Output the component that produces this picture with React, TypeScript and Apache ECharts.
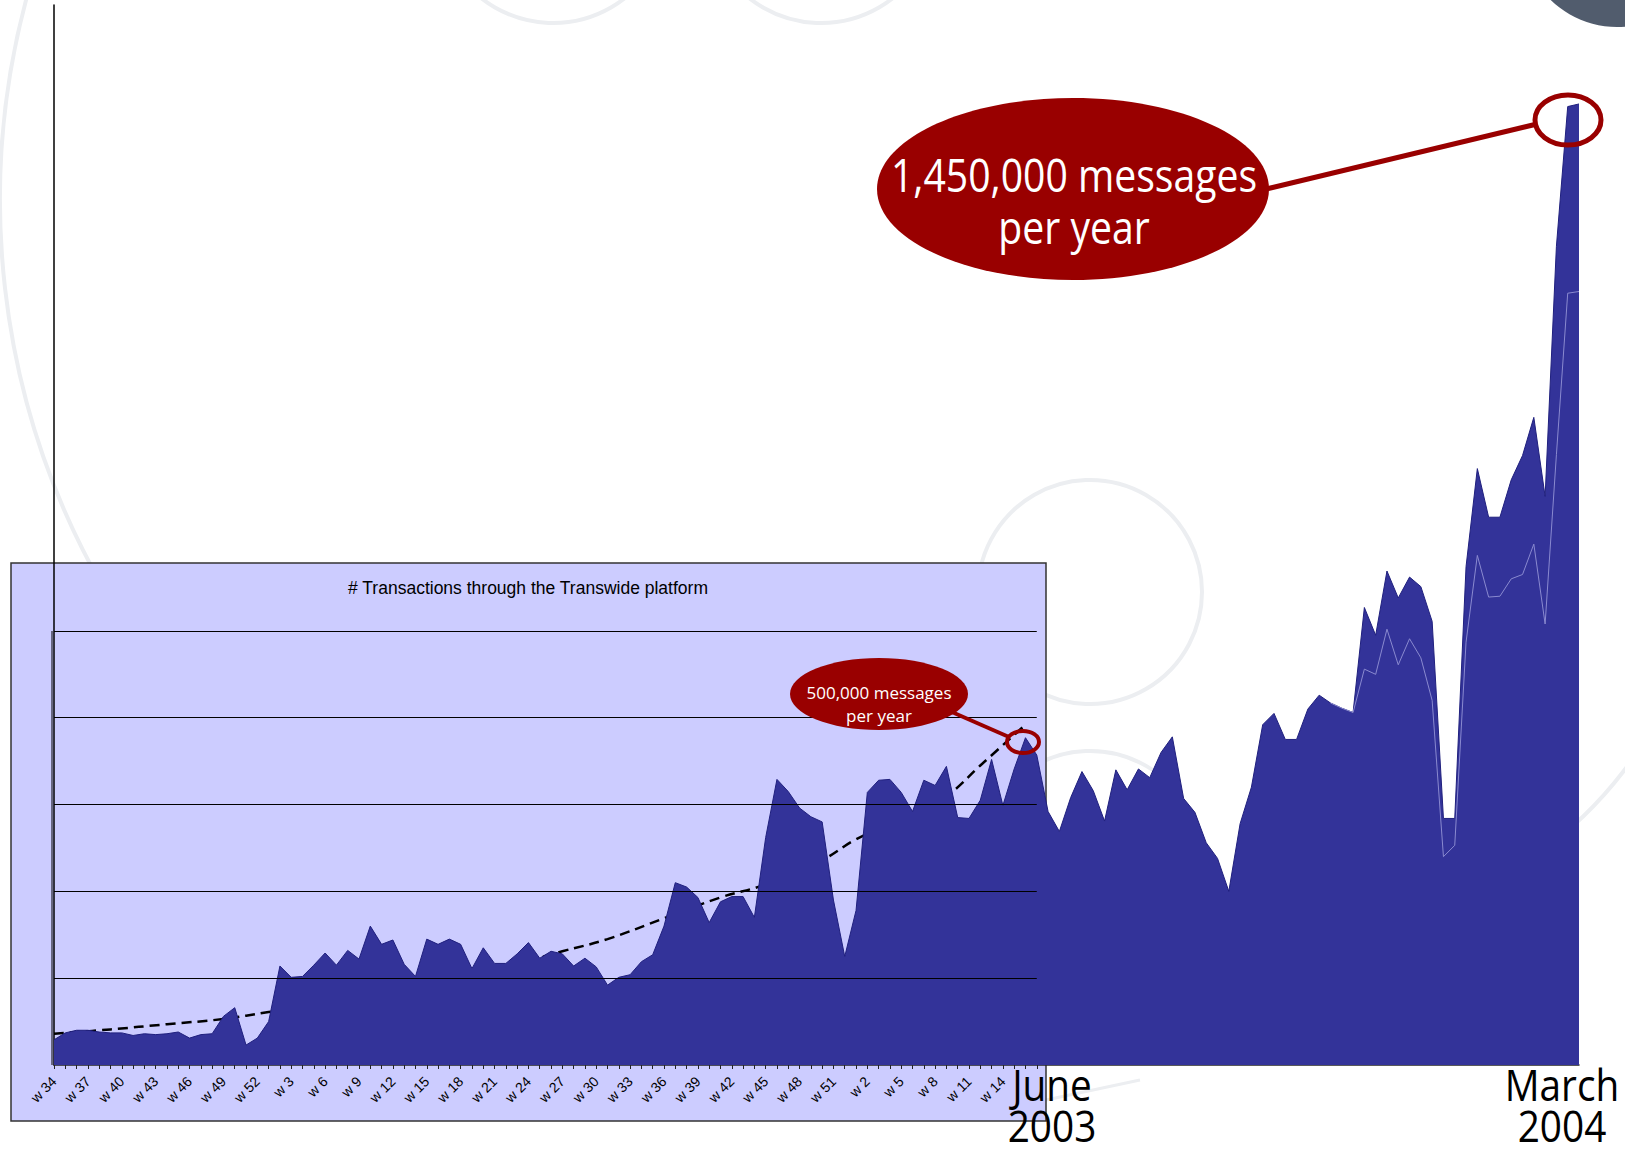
import React, { useEffect, useRef } from "react";
import * as echarts from "echarts";

// week numbers from w34 (2001) to w13 (2004)
const weekNumbers: number[] = [
  34, 35, 36, 37, 38, 39, 40, 41, 42, 43, 44, 45, 46, 47, 48, 49, 50, 51, 52,
  1, 2, 3, 4, 5, 6, 7, 8, 9, 10, 11, 12, 13, 14, 15, 16, 17, 18, 19, 20, 21, 22, 23, 24, 25, 26,
  27, 28, 29, 30, 31, 32, 33, 34, 35, 36, 37, 38, 39, 40, 41, 42, 43, 44, 45, 46, 47, 48, 49, 50, 51, 52,
  1, 2, 3, 4, 5, 6, 7, 8, 9, 10, 11, 12, 13, 14, 15, 16, 17, 18, 19, 20, 21, 22, 23, 24, 25, 26,
  27, 28, 29, 30, 31, 32, 33, 34, 35, 36, 37, 38, 39, 40, 41, 42, 43, 44, 45, 46, 47, 48, 49, 50, 51, 52,
  1, 2, 3, 4, 5, 6, 7, 8, 9, 10, 11, 12, 13,
];
const categories: string[] = weekNumbers.map((w, i) => `${i}:w ${w}`);

// transactions per week (gridline units)
const transactions: number[] = [
  0.29, 0.37, 0.40, 0.40, 0.38, 0.37, 0.37, 0.34, 0.36, 0.35,
  0.36, 0.38, 0.31, 0.35, 0.36, 0.56, 0.66, 0.23, 0.31, 0.50,
  1.14, 1.01, 1.02, 1.15, 1.29, 1.15, 1.32, 1.22, 1.60, 1.39,
  1.44, 1.16, 1.02, 1.45, 1.39, 1.45, 1.39, 1.11, 1.35, 1.17,
  1.17, 1.28, 1.41, 1.23, 1.31, 1.28, 1.14, 1.23, 1.13, 0.92,
  1.01, 1.04, 1.19, 1.27, 1.60, 2.10, 2.05, 1.93, 1.64, 1.88,
  1.94, 1.94, 1.70, 2.62, 3.29, 3.15, 2.96, 2.86, 2.80, 1.90,
  1.25, 1.78, 3.14, 3.28, 3.29, 3.14, 2.92, 3.28, 3.22, 3.44,
  2.85, 2.84, 3.05, 3.52, 2.99, 3.41, 3.77, 3.57, 2.92, 2.69,
  3.08, 3.38, 3.16, 2.81, 3.40, 3.17, 3.41, 3.31, 3.60, 3.78,
  3.07, 2.91, 2.56, 2.38, 2.00, 2.78, 3.20, 3.92, 4.05, 3.75,
  3.75, 4.10, 4.26, 4.17, 4.11, 4.06, 5.27, 4.95, 5.69, 5.38,
  5.62, 5.51, 5.11, 2.84, 2.84, 5.74, 6.87, 6.31, 6.31, 6.74,
  7.02, 7.46, 6.55, 9.43, 11.04, 11.07,
];

// lower series, visible from week index 113
const lowerStart = 113;
const lowerSeries: number[] = [
  4.17, 4.11, 4.06, 4.56, 4.50, 5.02, 4.61, 4.91, 4.69, 4.20,
  2.40, 2.53, 4.87, 5.87, 5.39, 5.40, 5.60, 5.65, 6.00, 5.08,
  7.03, 8.89, 8.91,
];

// dashed trend line read at some weeks [index, value]
const trendPoints: [number, number][] = [
  [0, 0.36], [5, 0.41], [10, 0.47], [15, 0.53], [19, 0.61], [25, 0.72],
  [30, 0.85], [35, 0.98], [40, 1.13], [45, 1.31], [49, 1.45], [54, 1.69],
  [59, 1.93], [63, 2.08], [68, 2.36], [71, 2.6], [75, 2.84], [79, 3.1],
  [82, 3.45], [86, 3.92],
];

const gridLevels: number[] = [1, 2, 3, 4, 5];
const innerLastTick = 87;
const innerLastLabel = 84;

const D = Math.PI / 180;
const humanist = "'Open Sans', 'Noto Sans', sans-serif";
const arial = "'Liberation Sans', Arial, sans-serif";
const deco = "#eceef1";
const red = "#990000";

export default function App() {
  const ref = useRef<HTMLDivElement>(null);
  useEffect(() => {
    const chart = echarts.init(ref.current!, null, { renderer: "svg" });
    const option: any = {
      animation: false,
      backgroundColor: "#ffffff",
      grid: { left: 54, right: 46, top: 5, bottom: 86, containLabel: false },
      xAxis: {
        type: "category",
        data: categories,
        boundaryGap: false,
        axisLine: { show: true, lineStyle: { color: "#222", width: 1.5 } },
        axisTick: {
          show: true,
          length: 4,
          interval: (index: number) => index <= innerLastTick,
          lineStyle: { color: "#222", width: 1 },
        },
        axisLabel: {
          show: true,
          rotate: 45,
          margin: 14,
          interval: (index: number) => index % 3 === 0 && index <= innerLastLabel,
          formatter: (v: string) => v.split(":")[1],
          color: "#000",
          fontSize: 14,
          fontFamily: arial,
        },
        splitLine: { show: false },
      },
      yAxis: {
        type: "value",
        min: 0,
        max: 12.21,
        axisLine: { show: true, lineStyle: { color: "#000", width: 1.5 } },
        axisTick: { show: false },
        axisLabel: { show: false },
        splitLine: { show: false },
      },
      series: [
        {
          name: "trend",
          type: "line",
          z: 2,
          smooth: 0.4,
          symbol: "none",
          data: trendPoints.map(([i, v]) => [categories[i], v]),
          lineStyle: { color: "#000", width: 2.5, type: [10, 6] },
          markLine: {
            silent: true,
            symbol: ["none", "none"],
            label: { show: false },
            lineStyle: { color: "#000", width: 1, type: "solid" },
            data: gridLevels.map((g) => [
              { coord: [categories[0], g] },
              { coord: [categories[innerLastTick], g] },
            ]),
          },
        },
        {
          name: "transactions",
          type: "line",
          z: 3,
          symbol: "none",
          data: transactions,
          lineStyle: { color: "#20207e", width: 1 },
          areaStyle: { color: "#333399", opacity: 1 },
        },
        {
          name: "lower",
          type: "line",
          z: 4,
          symbol: "none",
          data: lowerSeries.map((v, k) => [categories[lowerStart + k], v]),
          lineStyle: { color: "#8a8ad0", width: 1 },
        },
      ],
      graphic: [
        // decorative background shapes
        { type: "arc", z: -20, silent: true, shape: { cx: 780, cy: 200, r: 780, startAngle: 150 * D, endAngle: 197 * D, clockwise: true }, style: { stroke: deco, lineWidth: 4, fill: "none" } },
        { type: "circle", z: -20, silent: true, shape: { cx: 553, cy: -93, r: 116 }, style: { stroke: deco, lineWidth: 4, fill: "none" } },
        { type: "circle", z: -20, silent: true, shape: { cx: 821, cy: -93, r: 116 }, style: { stroke: deco, lineWidth: 4, fill: "none" } },
        { type: "circle", z: -20, silent: true, shape: { cx: 1090, cy: 592, r: 112 }, style: { stroke: deco, lineWidth: 4, fill: "none" } },
        { type: "circle", z: -20, silent: true, shape: { cx: 1090, cy: 864, r: 113 }, style: { stroke: deco, lineWidth: 4, fill: "none" } },
        { type: "arc", z: -20, silent: true, shape: { cx: 1306, cy: 528, r: 400, startAngle: 20 * D, endAngle: 55 * D, clockwise: true }, style: { stroke: deco, lineWidth: 4, fill: "none" } },
        { type: "line", z: -20, silent: true, shape: { x1: 1046, y1: 1100, x2: 1140, y2: 1080 }, style: { stroke: deco, lineWidth: 3 } },
        { type: "circle", z: -20, silent: true, shape: { cx: 1617, cy: -68, r: 95 }, style: { fill: "#515c6d" } },
        // inner chart box
        { type: "rect", z: -10, silent: true, shape: { x: 11, y: 563, width: 1035, height: 558 }, style: { fill: "#ccccff", stroke: "#333", lineWidth: 1.5 } },
        { type: "line", z: -9, silent: true, shape: { x1: 52, y1: 631, x2: 52, y2: 1065 }, style: { stroke: "#000", lineWidth: 1 } },
        {
          type: "text", z: 10, x: 528, y: 588,
          style: { text: "# Transactions through the Transwide platform", fontSize: 17.5, fontFamily: arial, fill: "#000", align: "center", verticalAlign: "middle" },
        },
        // big annotation
        { type: "line", z: 100, shape: { x1: 1262, y1: 190, x2: 1537, y2: 124 }, style: { stroke: red, lineWidth: 5 } },
        { type: "ellipse", z: 100, shape: { cx: 1568, cy: 120, rx: 33, ry: 25 }, style: { stroke: red, lineWidth: 5, fill: "none" } },
        { type: "ellipse", z: 101, shape: { cx: 1073, cy: 189, rx: 196, ry: 91 }, style: { fill: red } },
        {
          type: "text", z: 102, x: 1074, y: 200, scaleX: 0.87,
          style: { text: "1,450,000 messages\nper year", fontSize: 45, lineHeight: 52, fontFamily: humanist, fill: "#fff", align: "center", verticalAlign: "middle" },
        },
        // small annotation
        { type: "line", z: 100, shape: { x1: 945, y1: 709, x2: 1009, y2: 737 }, style: { stroke: red, lineWidth: 4 } },
        { type: "ellipse", z: 100, shape: { cx: 1023, cy: 742, rx: 16, ry: 11 }, style: { stroke: red, lineWidth: 4, fill: "none" } },
        { type: "ellipse", z: 101, shape: { cx: 879, cy: 694, rx: 89, ry: 36 }, style: { fill: red } },
        {
          type: "text", z: 102, x: 879, y: 704, scaleX: 1.0,
          style: { text: "500,000 messages\nper year", fontSize: 17, lineHeight: 23, fontFamily: humanist, fill: "#fff", align: "center", verticalAlign: "middle" },
        },
        // time labels
        {
          type: "text", z: 102, x: 1052, y: 1105, scaleX: 0.88,
          style: { text: "June\n2003", fontSize: 44, lineHeight: 41, fontFamily: humanist, fill: "#000", align: "center", verticalAlign: "middle" },
        },
        {
          type: "text", z: 102, x: 1562, y: 1105, scaleX: 0.88,
          style: { text: "March\n2004", fontSize: 44, lineHeight: 41, fontFamily: humanist, fill: "#000", align: "center", verticalAlign: "middle" },
        },
      ],
    };
    chart.setOption(option);
    return () => chart.dispose();
  }, []);
  return (
    <div
      ref={ref}
      style={{ position: "absolute", left: 0, top: 0, width: 1625, height: 1151, background: "#fff" }}
    />
  );
}
